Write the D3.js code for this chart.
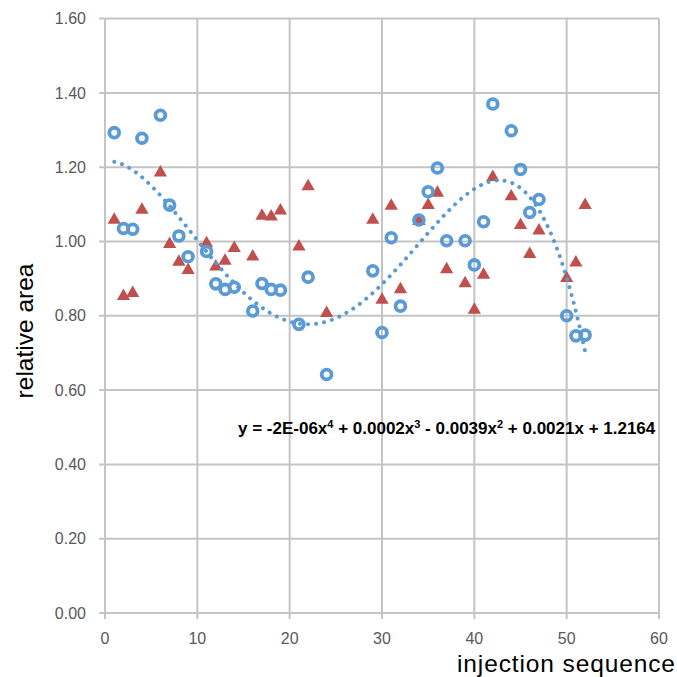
<!DOCTYPE html>
<html>
<head>
<meta charset="utf-8">
<script src="https://cdn.jsdelivr.net/npm/d3@7"></script>
<style>
  body { margin: 0; background: #fff; }
</style>
</head>
<body>
<div id="chart"></div>
<script>
// injection number for each measurement
const injections = [1, 2, 3, 4, 6, 7, 8, 9, 11, 12, 13, 14, 16, 17, 18, 19, 21, 22, 24,
  29, 30, 31, 32, 34, 35, 36, 37, 39, 40, 41, 42, 44, 45, 46, 47, 50, 51, 52];

// relative area, blue circles
const circleArea = [1.293, 1.035, 1.033, 1.278, 1.340, 1.098, 1.015, 0.959, 0.973, 0.886, 0.871, 0.877,
  0.813, 0.887, 0.871, 0.869, 0.777, 0.904, 0.642,
  0.921, 0.755, 1.010, 0.826, 1.058, 1.134, 1.198, 1.002, 1.002, 0.937, 1.053, 1.370, 1.298,
  1.194, 1.078, 1.113, 0.800, 0.746, 0.748];

// relative area, red triangles
const triangleArea = [1.058, 0.853, 0.861, 1.085, 1.185, 0.993, 0.945, 0.923, 0.995, 0.932, 0.948, 0.982,
  0.959, 1.069, 1.067, 1.083, 0.986, 1.148, 0.807,
  1.058, 0.843, 1.096, 0.871, 1.055, 1.098, 1.131, 0.925, 0.887, 0.816, 0.910, 1.173, 1.121,
  1.044, 0.966, 1.029, 0.901, 0.943, 1.098];

// trendline coefficients (x^0 .. x^4), from the equation shown on the chart
const trendCoef = [1.2164, 0.0021, -0.0039, 0.0001765, -0.000002037];
const trendRange = [1, 52];

const xTicks = [0, 10, 20, 30, 40, 50, 60];
const yTicks = [0, 0.2, 0.4, 0.6, 0.8, 1.0, 1.2, 1.4, 1.6];

const W = 677, H = 677;
const margin = { top: 18.6, right: 18, bottom: 64, left: 105 };

const svg = d3.select("#chart").append("svg")
  .attr("width", W)
  .attr("height", H)
  .style("font-family", "'Liberation Sans', Arial, sans-serif");

const x = d3.scaleLinear().domain([0, 60]).range([margin.left, W - margin.right]);
const y = d3.scaleLinear().domain([0, 1.6]).range([H - margin.bottom, margin.top]);

const gridColor = "#c4c4c4";

// gridlines
svg.append("g").selectAll("line")
  .data(xTicks)
  .join("line")
  .attr("x1", d => x(d)).attr("x2", d => x(d))
  .attr("y1", y(1.6)).attr("y2", y(0) + 6)
  .attr("stroke", gridColor).attr("stroke-width", 2);

svg.append("g").selectAll("line")
  .data(yTicks)
  .join("line")
  .attr("x1", x(0) - 6).attr("x2", x(60))
  .attr("y1", d => y(d)).attr("y2", d => y(d))
  .attr("stroke", gridColor).attr("stroke-width", 2);

// tick labels
svg.append("g").selectAll("text")
  .data(xTicks)
  .join("text")
  .attr("x", d => x(d))
  .attr("y", y(0) + 31)
  .attr("text-anchor", "middle")
  .attr("font-size", 16)
  .attr("fill", "#595959")
  .text(d => d);

svg.append("g").selectAll("text")
  .data(yTicks)
  .join("text")
  .attr("x", x(0) - 19)
  .attr("y", d => y(d))
  .attr("dy", "0.35em")
  .attr("text-anchor", "end")
  .attr("font-size", 16)
  .attr("fill", "#595959")
  .text(d => d3.format(".2f")(d));

// axis titles
svg.append("text")
  .attr("x", 675)
  .attr("y", 672)
  .attr("text-anchor", "end")
  .attr("font-size", 24.5)
  .attr("textLength", 218)
  .attr("lengthAdjust", "spacing")
  .attr("fill", "#000")
  .text("injection sequence");

svg.append("text")
  .attr("transform", "translate(33,331) rotate(-90)")
  .attr("text-anchor", "middle")
  .attr("font-size", 24.5)
  .attr("fill", "#000")
  .text("relative area");

// triangles
const triSym = d3.symbol().type(d3.symbolTriangle).size(76);
svg.append("g").selectAll("path")
  .data(injections)
  .join("path")
  .attr("transform", (d, i) => `translate(${x(d)},${y(triangleArea[i])})`)
  .attr("d", triSym)
  .attr("fill", "#c0504d");

// circles
svg.append("g").selectAll("circle")
  .data(injections)
  .join("circle")
  .attr("cx", d => x(d))
  .attr("cy", (d, i) => y(circleArea[i]))
  .attr("r", 4.9)
  .attr("fill", "none")
  .attr("stroke", "#5b9bd5")
  .attr("stroke-width", 3.8);

// 4th order polynomial trendline (drawn on top of the markers)
const trend = v => trendCoef.reduce((acc, c, i) => acc + c * Math.pow(v, i), 0);
const trendPts = d3.range(trendRange[0], trendRange[1] + 0.01, 0.25).map(v => [v, trend(v)]);

svg.append("path")
  .datum(trendPts)
  .attr("d", d3.line().x(d => x(d[0])).y(d => y(d[1])))
  .attr("fill", "none")
  .attr("stroke", "#5b9bd5")
  .attr("stroke-width", 4)
  .attr("stroke-linecap", "round")
  .attr("stroke-dasharray", "0.01 8.1");

// trendline equation
const eq = svg.append("text")
  .attr("x", 238)
  .attr("y", 434)
  .attr("font-size", 17)
  .attr("font-weight", "bold")
  .attr("fill", "#000");
const parts = [
  ["y = -2E-06x", false], ["4", true], [" + 0.0002x", false], ["3", true],
  [" - 0.0039x", false], ["2", true], [" + 0.0021x + 1.2164", false]
];
parts.forEach(([t, sup]) => {
  eq.append("tspan")
    .attr("font-size", sup ? 11 : 17)
    .attr("dy", sup ? -6 : (t.startsWith("y") ? 0 : 6))
    .text(t);
});
</script>
</body>
</html>
